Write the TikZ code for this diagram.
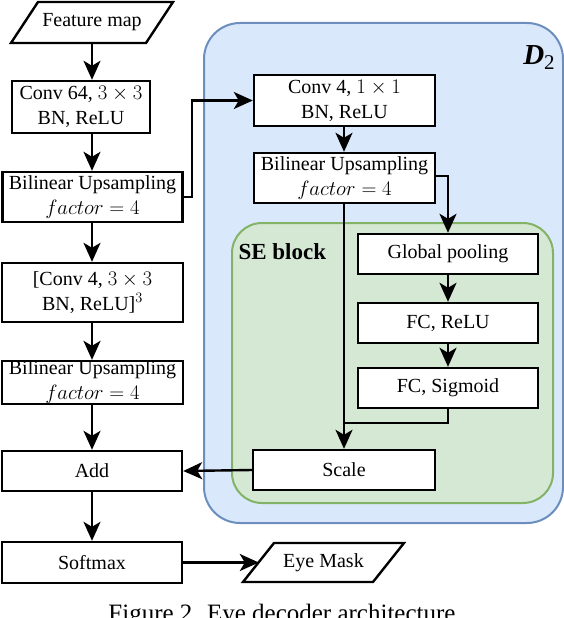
\documentclass[tikz,border=0pt]{standalone}
\usepackage{fontspec}
\setmainfont{Liberation Serif}
\usetikzlibrary{arrows.meta,calc}
\definecolor{blueFill}{HTML}{DAE8FC}
\definecolor{blueLine}{HTML}{6C8EBF}
\definecolor{greenFill}{HTML}{D5E8D4}
\definecolor{greenLine}{HTML}{82B366}
\begin{document}
\begin{tikzpicture}[x=1pt,y=-1pt,
  blk/.style={draw=black,line width=2.4pt,fill=white,rectangle,inner sep=0pt,align=center,
    font=\fontsize{20}{25}\selectfont},
  io/.style={rectangle,inner sep=0pt,align=center,font=\fontsize{20}{25}\selectfont},
  conn/.style={line width=2.4pt,draw=black},
  arr/.style={conn,-{Stealth[length=19pt,width=17pt,inset=5pt]}}]
\useasboundingbox (0,0) rectangle (564,618);
\clip (0,0) rectangle (564,618);

% containers
\path[fill=blueFill,draw=blueLine,line width=2pt,rounded corners=36pt] (204,23) rectangle (563,523);
\path[fill=greenFill,draw=greenLine,line width=2pt,rounded corners=30pt] (232,223) rectangle (553,503);
\node[anchor=center,font=\fontsize{29}{30}\selectfont] (dtwo) at (539,58) {\textbf{\textit{D}}\raisebox{-5pt}{\fontsize{21}{22}\selectfont 2}};
\node[anchor=west,font=\fontsize{23}{26}\selectfont\bfseries] (se) at (235,252) {SE block};

% left column
\node[io,minimum width=135pt,minimum height=41pt] (fm) at (92,22.5) {Feature map};
\draw[line width=2.4pt] ($(fm.center)+(-81,20.5)$) -- ($(fm.center)+(-54,-20.5)$) -- ($(fm.center)+(81,-20.5)$) -- ($(fm.center)+(54,20.5)$) -- cycle;
\node[blk,minimum width=138pt,minimum height=52pt] (conv64) at (81,107) {Conv 64, $3\times3$\\BN, ReLU};
\node[blk,minimum width=180pt,minimum height=50pt] (bil1) at (92.5,197) {Bilinear Upsampling\\$factor=4$};
\node[blk,minimum width=181pt,minimum height=59pt] (conv3) at (92.5,292.5) {[Conv 4, $3\times3$\\BN, ReLU]$^3$};
\node[blk,minimum width=181pt,minimum height=41pt] (bil2) at (92.5,382.5) {Bilinear Upsampling\\$factor=4$};
\node[blk,minimum width=180pt,minimum height=40pt] (add) at (92,471) {Add};
\node[blk,minimum width=180pt,minimum height=41pt] (soft) at (92,562.5) {Softmax};
\node[io,minimum width=129pt,minimum height=39pt] (eye) at (323.5,562.5) {Eye Mask};
\draw[line width=2.4pt] ($(eye.center)+(-80.5,19.5)$) -- ($(eye.center)+(-49.5,-19.5)$) -- ($(eye.center)+(80.5,-19.5)$) -- ($(eye.center)+(49.5,19.5)$) -- cycle;

% right column
\node[blk,minimum width=181pt,minimum height=51pt] (conv4) at (344.5,100.5) {Conv 4, $1\times1$\\BN, ReLU};
\node[blk,minimum width=181pt,minimum height=50pt] (bil3) at (344.5,178) {Bilinear Upsampling\\$factor=4$};
\node[blk,minimum width=180pt,minimum height=40pt] (gp) at (448,254) {Global pooling};
\node[blk,minimum width=180pt,minimum height=40pt] (fc1) at (448,323) {FC, ReLU};
\node[blk,minimum width=180pt,minimum height=40pt] (fc2) at (448,388) {FC, Sigmoid};
\node[blk,minimum width=182pt,minimum height=40pt] (scale) at (344,470) {Scale};
\coordinate (join) at (344,423);
\coordinate (bend) at (192,197);

% connectors
\draw[arr] (fm.south) -- (fm.south |- conv64.north);
\draw[arr] (fm.south |- conv64.south) -- (fm.south |- bil1.north);
\draw[arr] (bil1.south -| fm.south) -- (fm.south |- conv3.north);
\draw[arr] (conv3.south -| fm.south) -- (fm.south |- bil2.north);
\draw[arr] (bil2.south -| fm.south) -- (fm.south |- add.north);
\draw[arr] (add.south -| fm.south) -- (fm.south |- soft.north);
\draw[arr] (soft.east) -- (eye.west);
\draw[arr] (bil1.east) -- (bend) |- (conv4.west);
\draw[arr] (conv4.south -| scale.north) -- (bil3.north -| scale.north);
\draw[arr] ([yshift=2pt]bil3.east) -| (gp.north);
\draw[arr] (gp.south) -- (fc1.north);
\draw[arr] (fc1.south) -- (fc2.north);
\draw[conn] (fc2.south) |- (join);
\draw[arr] (bil3.south -| scale.north) -- (scale.north);
\draw[arr] (scale.west) -- (add.east);

% caption
\node[anchor=base,font=\fontsize{25}{28}\selectfont] (cap) at (282,621) {Figure 2. Eye decoder architecture};
\end{tikzpicture}
\end{document}
